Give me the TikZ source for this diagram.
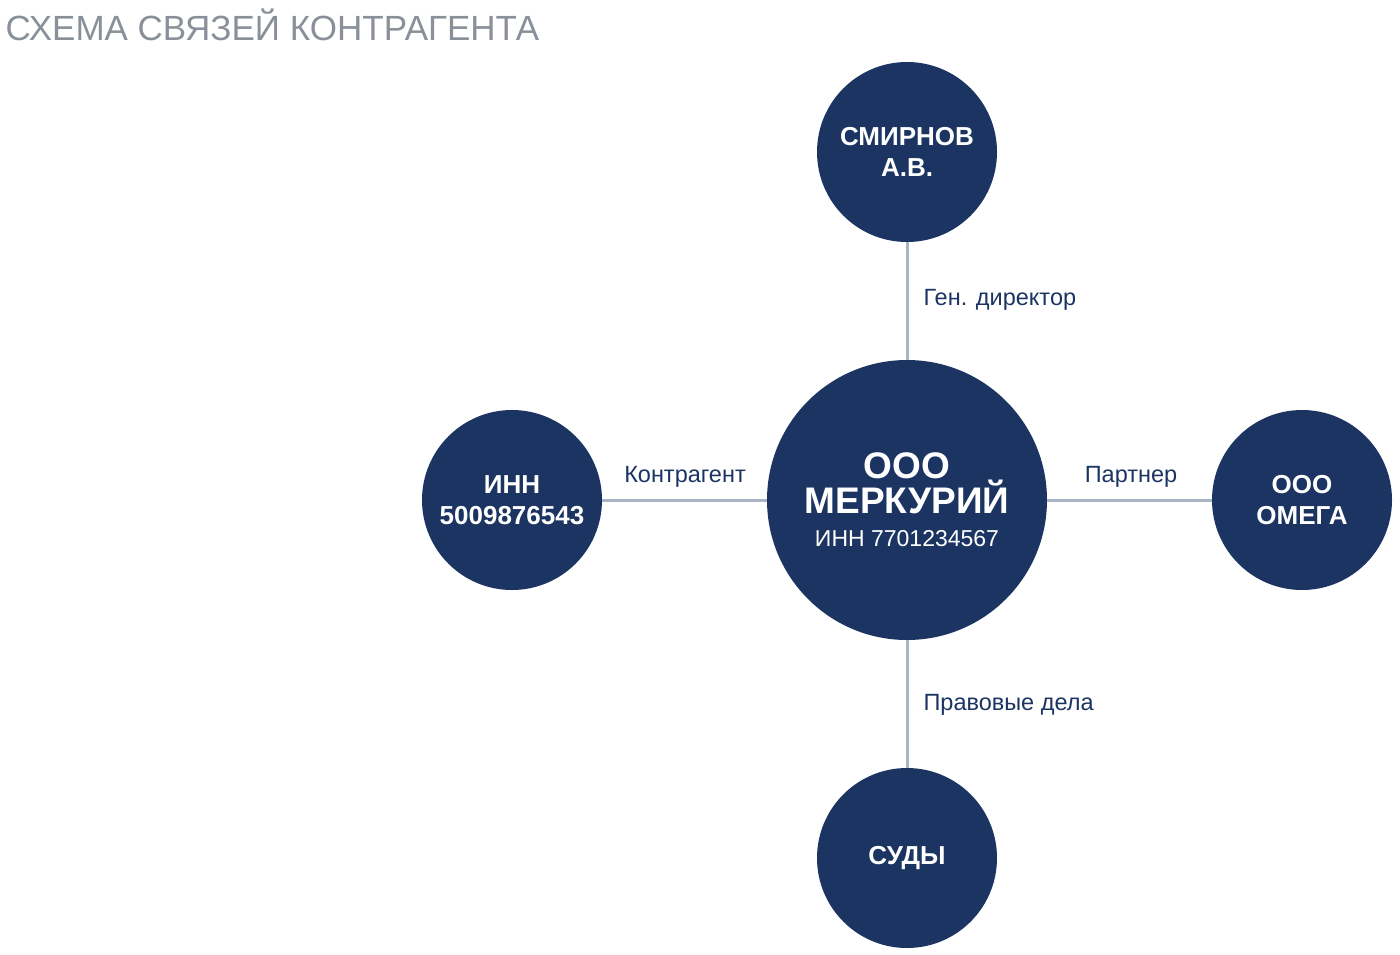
\documentclass[tikz,border=0pt]{standalone}
\usepackage{fontspec}
\setmainfont{Liberation Sans}
\begin{document}
\begin{tikzpicture}[x=1pt,y=-1pt,
  ent/.style={circle,fill=navy,text=white,font=\fontsize{26}{31}\selectfont\bfseries,align=center,inner sep=0pt},
  lnk/.style={draw=linkc,line width=3pt},
  lab/.style={text=navy,font=\fontsize{23.5}{27}\selectfont}]
\definecolor{navy}{HTML}{1B3461}
\definecolor{linkc}{HTML}{A9B4C4}
\definecolor{titc}{HTML}{8A9099}
\useasboundingbox (0,0) rectangle (1400,954);
\node[anchor=west,text=titc,font=\fontsize{35}{40}\selectfont] (title) at (2,25) {СХЕМА СВЯЗЕЙ КОНТРАГЕНТА};
\node[ent,minimum size=280pt] (c) at (907,500) {\fontsize{37}{44}\selectfont\bfseries ООО\\\fontsize{37}{44}\selectfont\bfseries МЕРКУРИЙ\\[2pt]\fontsize{23}{27}\selectfont\mdseries ИНН 7701234567};
\node[ent,minimum size=180pt] (t) at (907,152) {СМИРНОВ\\А.В.};
\node[ent,minimum size=180pt] (l) at (512,500) {ИНН\\5009876543};
\node[ent,minimum size=180pt] (r) at (1302,500) {ООО\\ОМЕГА};
\node[ent,minimum size=180pt] (b) at (907,858) {СУДЫ};
\draw[lnk] (c) -- (t);
\draw[lnk] (c) -- (l);
\draw[lnk] (c) -- (r);
\draw[lnk] (c) -- (b);
\node[lab,anchor=west] (lt) at (920,300) {Ген. директор};
\node[lab,anchor=center] (ll) at (685,477) {Контрагент};
\node[lab,anchor=center] (lr) at (1131,477) {Партнер};
\node[lab,anchor=west] (lb) at (920,705) {Правовые дела};
\end{tikzpicture}
\end{document}
